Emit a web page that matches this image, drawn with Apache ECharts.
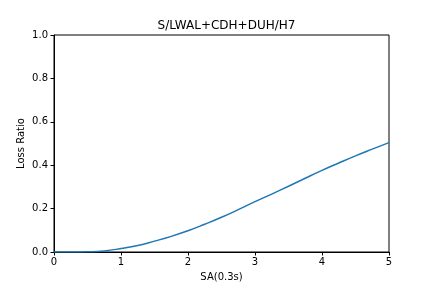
<!DOCTYPE html>
<html>
<head>
<meta charset="utf-8">
<script src="https://cdn.jsdelivr.net/npm/echarts@6/dist/echarts.min.js"></script>
<style>
  html, body { margin: 0; padding: 0; background: #fff; }
  #chart { width: 432px; height: 288px; }
</style>
</head>
<body>
<div id="chart"></div>
<script>
// values
var saValues = [0, 0.25, 0.5, 0.75, 1.0, 1.25, 1.5, 1.75, 2.0, 2.25, 2.5, 2.75, 3.0, 3.25, 3.5, 3.75, 4.0, 4.25, 4.5, 4.75, 5.0];
var lossRatio = [0, 0.0, 0.001, 0.005, 0.016, 0.03, 0.05, 0.072, 0.098, 0.128, 0.16, 0.195, 0.232, 0.267, 0.303, 0.34, 0.376, 0.41, 0.443, 0.474, 0.504];
var chartTitle = 'S/LWAL+CDH+DUH/H7';

var points = saValues.map(function (x, i) { return [x, lossRatio[i]]; });

var font = 'DejaVu Sans';
var myChart = echarts.init(document.getElementById('chart'));
var option = {
  animation: false,
  title: {
    text: chartTitle,
    left: 221.5,
    textAlign: 'center',
    top: 15,
    textStyle: { fontFamily: font, fontSize: 12, fontWeight: 'normal', color: '#000' }
  },
  grid: {
    left: 54, right: 43, top: 35, bottom: 36,
    show: true, borderColor: '#000', borderWidth: 1, backgroundColor: 'transparent'
  },
  xAxis: {
    type: 'value', min: 0, max: 5, interval: 1,
    name: 'SA(0.3s)', nameLocation: 'middle', nameGap: 20, nameMoveOverlap: false,
    nameTextStyle: { fontFamily: font, fontSize: 10, color: '#000' },
    axisLine: { show: true, lineStyle: { color: '#000', width: 1 } },
    axisTick: { show: true, length: 3.5, lineStyle: { color: '#000' } },
    axisLabel: { fontFamily: font, fontSize: 10, color: '#000', margin: 5 },
    splitLine: { show: false }
  },
  yAxis: {
    type: 'value', min: 0, max: 1, interval: 0.2,
    name: 'Loss Ratio', nameLocation: 'middle', nameGap: 28, nameMoveOverlap: false,
    nameTextStyle: { fontFamily: font, fontSize: 10, color: '#000' },
    axisLine: { show: true, lineStyle: { color: '#000', width: 1 } },
    axisTick: { show: true, length: 3.5, lineStyle: { color: '#000' } },
    axisLabel: { fontFamily: font, fontSize: 10, color: '#000', margin: 6,
      formatter: function (v) { return v.toFixed(1); } },
    splitLine: { show: false }
  },
  series: [{
    type: 'line',
    data: points,
    smooth: true,
    showSymbol: false,
    lineStyle: { color: '#1f77b4', width: 1.5 }
  }]
};
myChart.setOption(option);
</script>
</body>
</html>
